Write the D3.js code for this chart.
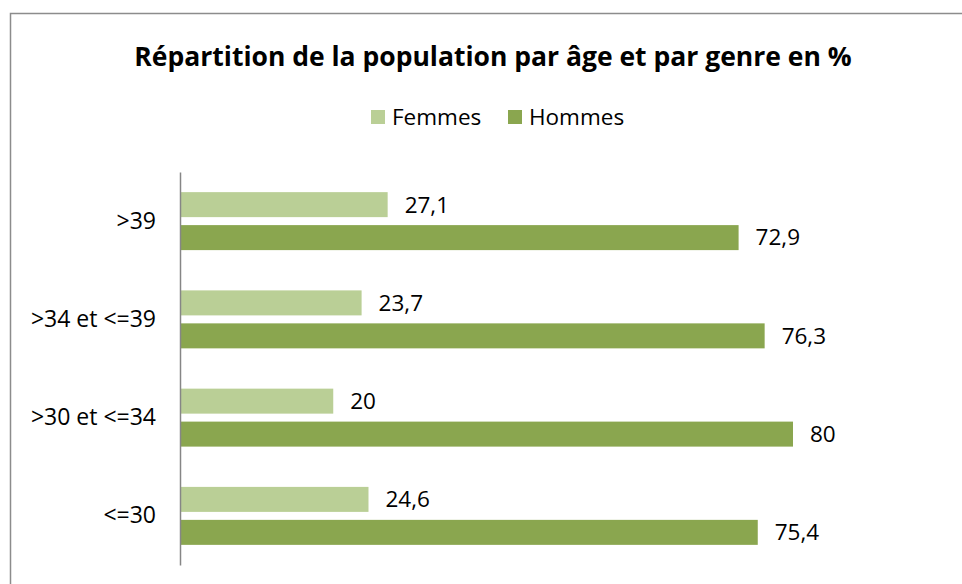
<!DOCTYPE html>
<html>
<head>
<meta charset="utf-8">
<script src="https://cdn.jsdelivr.net/npm/d3@7"></script>
<style>
  body { margin: 0; background: #fff; }
  svg { display: block; font-family: "Open Sans", sans-serif; }
</style>
</head>
<body>
<svg id="chart" width="962" height="584"></svg>
<script>
// data, top to bottom as in the chart
const categories = ['>39', '>34 et <=39', '>30 et <=34', '<=30']
const series = ['Femmes', 'Hommes']
const femmes = [27.1, 23.7, 20, 24.6]
const hommes = [72.9, 76.3, 80, 75.4]
const colors = ['#bacf96', '#8aa64f']

const svg = d3.select('#chart')

// outer frame of the chart area
svg.append('rect')
    .attr('x', 10.5).attr('y', 13.5)
    .attr('width', 980).attr('height', 600)
    .attr('fill', 'none')
    .attr('stroke', '#8c8c8c')
    .attr('stroke-width', 1.5)

svg.append('text')
    .text('Répartition de la population par âge et par genre en %')
    .attr('x', 493).attr('y', 66)
    .attr('text-anchor', 'middle')
    .attr('font-size', 26.5)
    .attr('font-weight', 'bold')
    .attr('fill', '#000')

// legend
const legendPos = [371, 508]
const legend = svg.append('g')
series.forEach((s, i) => {
    legend.append('rect')
        .attr('x', legendPos[i]).attr('y', 110)
        .attr('width', 14).attr('height', 14)
        .attr('fill', colors[i])
    legend.append('text')
        .text(s)
        .attr('x', legendPos[i] + 21).attr('y', 117)
        .attr('dy', '0.35em')
        .attr('font-size', 22.5)
        .attr('fill', '#000')
})

const x = d3.scaleLinear().domain([0, 80]).range([180, 793])
const y = d3.scaleBand().domain(categories).range([172, 565])
    .paddingInner(0.41).paddingOuter(0.205)
const ySub = d3.scaleBand().domain(series).range([0, y.bandwidth()])
    .paddingInner(0.242)

const rows = categories.map((c, i) => ({cat: c, vals: [femmes[i], hommes[i]]}))

const groups = svg.selectAll('g.cat')
    .data(rows)
    .join('g')
    .attr('class', 'cat')
    .attr('transform', d => `translate(0,${y(d.cat)})`)

groups.selectAll('rect')
    .data(d => d.vals.map((v, i) => ({s: series[i], v, i})))
    .join('rect')
    .attr('x', x(0))
    .attr('y', d => ySub(d.s))
    .attr('width', d => x(d.v) - x(0))
    .attr('height', ySub.bandwidth())
    .attr('fill', d => colors[d.i])

groups.selectAll('text.val')
    .data(d => d.vals.map((v, i) => ({s: series[i], v})))
    .join('text')
    .attr('class', 'val')
    .text(d => String(d.v).replace('.', ','))
    .attr('x', d => x(d.v) + 17)
    .attr('y', d => ySub(d.s) + ySub.bandwidth() / 2)
    .attr('dy', '0.35em')
    .attr('font-size', 22.5)
    .attr('fill', '#000')

// category axis
const yAxis = d3.axisLeft(y).tickSize(0).tickPadding(24)
const axisG = svg.append('g')
    .attr('transform', `translate(${x(0)},0)`)
    .call(yAxis)
axisG.select('.domain').attr('stroke', '#868686').attr('stroke-width', 1.5)
axisG.selectAll('.tick text')
    .attr('font-size', 23)
    .attr('font-family', '"Open Sans", sans-serif')
    .attr('fill', '#000')
</script>
</body>
</html>
